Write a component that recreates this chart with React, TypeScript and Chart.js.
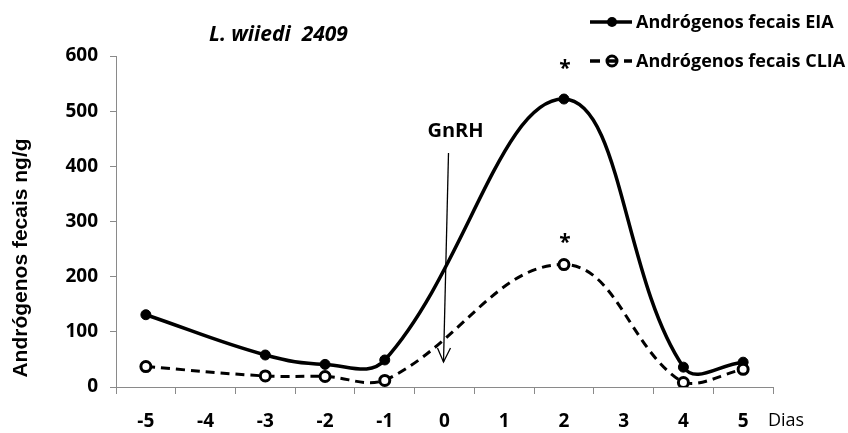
import React, { useEffect, useRef } from "react";
import { Chart, registerables } from "chart.js";

Chart.register(...registerables);

const categories = ["-5", "-4", "-3", "-2", "-1", "0", "1", "2", "3", "4", "5"];
const eiaValues: (number | null)[] = [131, null, 58, 41, 49, null, null, 522, null, 36, 45];
const cliaValues: (number | null)[] = [37, null, 20, 19, 12, null, null, 222, null, 8, 32];
const yTicks = [0, 100, 200, 300, 400, 500, 600];
const seriesNames = ["Andrógenos fecais EIA", "Andrógenos fecais CLIA"];
const titleText = "L. wiiedi  2409";
const yTitle = "Andrógenos fecais ng/g";
const xUnit = "Dias";
const arrowLabel = "GnRH";
const starMarks = [
  { cat: "2", value: 588 },
  { cat: "2", value: 272 },
];

const FONT = "'Open Sans', Lato, sans-serif";

const annotations = {
  id: "annotations",
  afterDraw(chart: any) {
    const ctx = chart.ctx as CanvasRenderingContext2D;
    const x = chart.scales.x;
    const y = chart.scales.y;
    ctx.save();
    ctx.fillStyle = "#000";
    ctx.strokeStyle = "#000";

    // title
    ctx.font = `italic bold 21px ${FONT}`;
    ctx.textAlign = "left";
    ctx.textBaseline = "middle";
    ctx.fillText(titleText, 209, 35);

    // y title
    ctx.save();
    ctx.translate(21, 258);
    ctx.rotate(-Math.PI / 2);
    ctx.font = `bold 21px 'Liberation Sans', Arial, sans-serif`;
    ctx.textAlign = "center";
    ctx.textBaseline = "middle";
    ctx.fillText(yTitle, 0, 0);
    ctx.restore();

    // Dias
    ctx.font = `18px ${FONT}`;
    ctx.textAlign = "left";
    ctx.textBaseline = "middle";
    ctx.fillText(xUnit, 768, 421);

    // GnRH arrow
    const ax = x.getPixelForValue(5);
    ctx.font = `bold 20px ${FONT}`;
    ctx.textAlign = "center";
    ctx.fillText(arrowLabel, ax + 11, 131);
    ctx.lineWidth = 1.3;
    ctx.beginPath();
    ctx.moveTo(ax + 4, 153);
    ctx.lineTo(ax - 1, 362);
    ctx.stroke();
    ctx.beginPath();
    ctx.moveTo(ax - 7, 348);
    ctx.lineTo(ax - 1, 362);
    ctx.lineTo(ax + 6, 348);
    ctx.stroke();

    // stars
    ctx.font = `bold 21px ${FONT}`;
    ctx.textAlign = "center";
    ctx.textBaseline = "top";
    for (const s of starMarks) {
      const px = x.getPixelForValue(categories.indexOf(s.cat));
      const py = y.getPixelForValue(s.value);
      ctx.fillText("*", px + 1, py - 4);
    }

    // legend
    const lx0 = 590;
    const lx1 = 632;
    const rows = [22, 61];
    ctx.font = `bold 18px ${FONT}`;
    ctx.textAlign = "left";
    ctx.textBaseline = "middle";
    // row 1
    ctx.lineWidth = 3.5;
    ctx.beginPath();
    ctx.moveTo(lx0, rows[0]);
    ctx.lineTo(lx1, rows[0]);
    ctx.stroke();
    ctx.beginPath();
    ctx.arc(612, rows[0], 5, 0, Math.PI * 2);
    ctx.fill();
    ctx.fillText(seriesNames[0], 636, rows[0] + 1);
    // row 2
    ctx.lineWidth = 3.5;
    ctx.beginPath();
    ctx.moveTo(lx0, rows[1]);
    ctx.lineTo(lx0 + 10, rows[1]);
    ctx.moveTo(lx1 - 8, rows[1]);
    ctx.lineTo(lx1, rows[1]);
    ctx.moveTo(607, rows[1]);
    ctx.lineTo(617, rows[1]);
    ctx.stroke();
    ctx.lineWidth = 3;
    ctx.beginPath();
    ctx.arc(612, rows[1], 5, 0, Math.PI * 2);
    ctx.stroke();
    ctx.fillText(seriesNames[1], 636, rows[1] + 1);

    ctx.restore();
  },
};

export default function App() {
  const ref = useRef<HTMLCanvasElement | null>(null);
  useEffect(() => {
    if (!ref.current) return;
    const chart = new Chart(ref.current, {
      type: "line",
      data: {
        labels: categories,
        datasets: [
          {
            label: seriesNames[1],
            data: cliaValues,
            borderColor: "#000",
            borderWidth: 3,
            borderDash: [9, 6],
            tension: 0.4,
            spanGaps: true,
            pointRadius: 5,
            pointBorderWidth: 3,
            pointBackgroundColor: "#fff",
            pointBorderColor: "#000",
            fill: false,
          },
          {
            label: seriesNames[0],
            data: eiaValues,
            borderColor: "#000",
            borderWidth: 3.5,
            tension: 0.4,
            spanGaps: true,
            pointRadius: 5,
            pointBorderWidth: 1,
            pointBackgroundColor: "#000",
            pointBorderColor: "#000",
            fill: false,
          },
        ],
      },
      options: {
        responsive: false,
        animation: false,
        layout: { padding: { left: 0, right: 75, top: 56, bottom: 0 } },
        plugins: {
          legend: { display: false },
          tooltip: { enabled: false },
          title: { display: false },
        },
        scales: {
          x: {
            type: "category",
            offset: true,
            grid: {
              offset: true,
              drawOnChartArea: false,
              drawTicks: true,
              tickLength: 7,
              color: "#8a8a8a",
            },
            border: { color: "#8a8a8a", width: 1 },
            ticks: {
              color: "#000",
              font: { family: FONT, size: 19, weight: "bold" },
              padding: 16,
              maxRotation: 0,
              autoSkip: false,
            },
            afterFit(scale: any) {
              scale.height = 46;
            },
          },
          y: {
            min: 0,
            max: 600,
            afterBuildTicks(scale: any) {
              scale.ticks = yTicks.map((v) => ({ value: v }));
            },
            grid: {
              drawOnChartArea: false,
              drawTicks: true,
              tickLength: 6,
              color: "#8a8a8a",
            },
            border: { color: "#8a8a8a", width: 1 },
            ticks: {
              color: "#000",
              font: { family: FONT, size: 19, weight: "bold" },
              padding: 12,
            },
            afterFit(scale: any) {
              scale.width = 116;
            },
          },
        },
      },
      plugins: [annotations],
    });
    return () => chart.destroy();
  }, []);
  return (
    <div style={{ position: "fixed", left: 0, top: 0, width: 848, height: 433, background: "#fff" }}>
      <canvas ref={ref} width={848} height={433} style={{ display: "block" }} />
    </div>
  );
}
